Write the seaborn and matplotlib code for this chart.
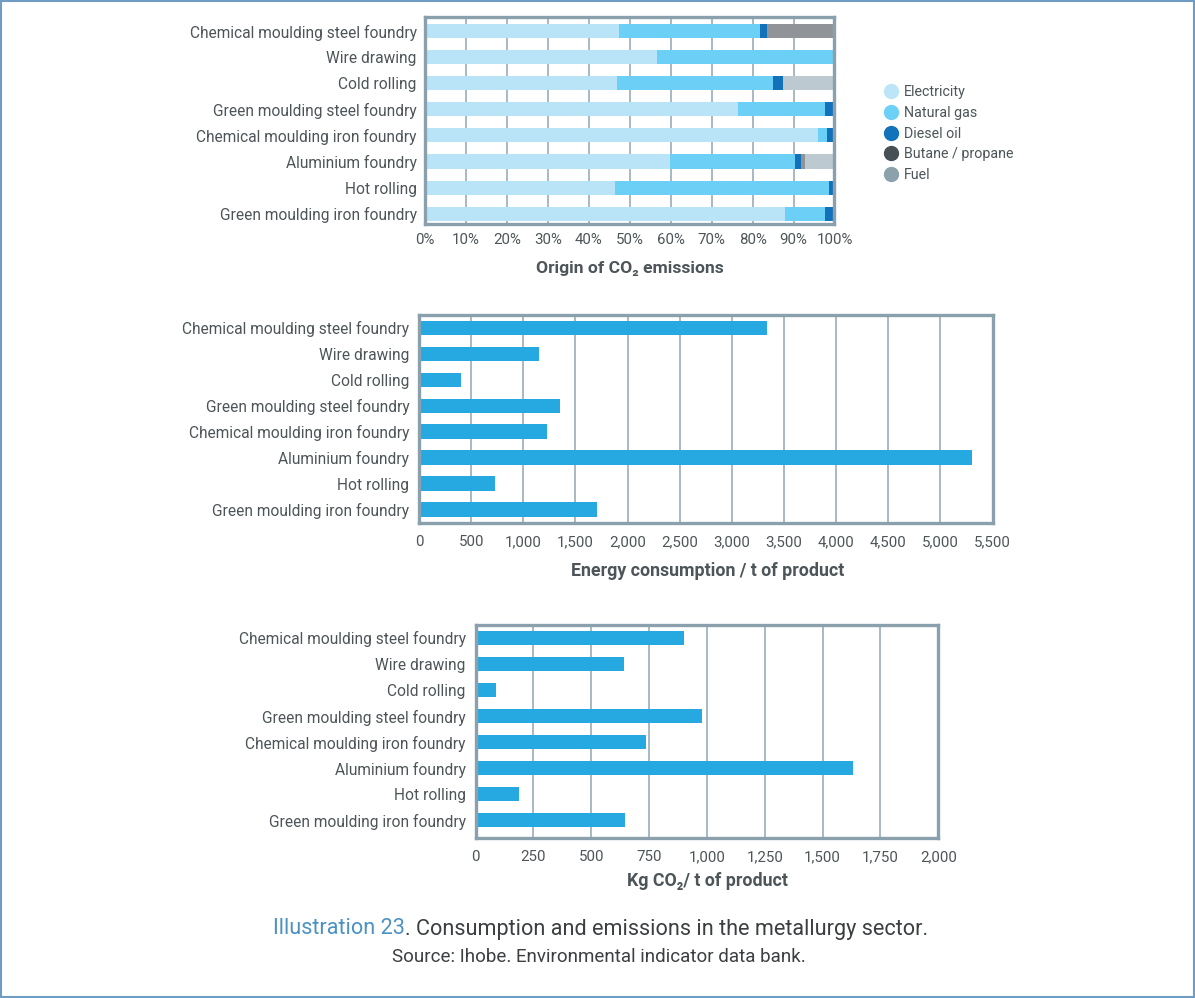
import numpy as np
import pandas as pd
import matplotlib
matplotlib.use("Agg")
import matplotlib.pyplot as plt
import seaborn as sns
from matplotlib.lines import Line2D
from matplotlib.patches import Rectangle
from matplotlib.ticker import FuncFormatter

# ---------------- data ----------------
categories = [
    "Chemical moulding steel foundry",
    "Wire drawing",
    "Cold rolling",
    "Green moulding steel foundry",
    "Chemical moulding iron foundry",
    "Aluminium foundry",
    "Hot rolling",
    "Green moulding iron foundry",
]

sources = ["Electricity", "Natural gas", "Diesel oil", "Butane / propane", "Fuel"]
electricity = [47.3, 56.7, 47.0, 76.4, 96.0, 59.9, 46.3, 87.8]
natural_gas = [34.4, 43.3, 38.1, 21.3, 2.2, 30.5, 52.4, 9.9]
diesel_oil = [1.9, 0.0, 2.4, 2.3, 1.8, 1.5, 1.3, 2.3]
butane_propane = [16.4, 0.0, 0.0, 0.0, 0.0, 0.9, 0.0, 0.0]
fuel = [0.0, 0.0, 12.5, 0.0, 0.0, 7.2, 0.0, 0.0]

energy_consumption = [3340, 1150, 400, 1350, 1230, 5300, 730, 1710]
kg_co2 = [900, 640, 90, 980, 735, 1630, 190, 645]

pct_ticks = list(range(0, 101, 10))
pct_labels = [f"{v}%" for v in pct_ticks]
energy_ticks = list(range(0, 5501, 500))
co2_ticks = list(range(0, 2001, 250))

title_1 = "Origin of CO\u2082 emissions"
title_2 = "Energy consumption / t of product"
title_3 = "Kg CO\u2082/ t of product"
caption_a = "Illustration 23"
caption_b = ". Consumption and emissions in the metallurgy sector."
source_text = "Source: Ihobe. Environmental indicator data bank."

# ---------------- style ----------------
bar_colors = ["#b9e4f8", "#6bcff6", "#1172ba", "#909498", "#bdc9d1"]
legend_colors = ["#bde5f8", "#6dd0f6", "#1273bb", "#465055", "#8ba1ac"]
main_blue = "#25a9e0"
frame_col = "#8aa1ad"
grid_col = "#9fb3bd"
text_col = "#4d5559"

sns.set_style("white")
plt.rcParams["font.family"] = ["Roboto", "DejaVu Sans"]

W, H = 1195, 998
fig = plt.figure(figsize=(W / 100, H / 100), dpi=100)
fig.patch.set_facecolor("white")


def ax_at(x0, y0, x1, y1):
    return fig.add_axes([x0 / W, 1 - y1 / H, (x1 - x0) / W, (y1 - y0) / H])


def style_axes(ax, ypad, xpad):
    for s in ax.spines.values():
        s.set_visible(True)
        s.set_color(frame_col)
        s.set_linewidth(2.4)
    ax.set_axisbelow(True)
    ax.xaxis.grid(True, color=grid_col, linewidth=1.3)
    ax.yaxis.grid(False)
    ax.tick_params(axis="both", length=0, colors=text_col)
    ax.tick_params(axis="y", pad=ypad, labelsize=11.2)
    ax.tick_params(axis="x", pad=xpad, labelsize=10.8)
    ax.set_xlabel("")
    ax.set_ylabel("")


# ---------------- chart 1 : stacked origin of CO2 ----------------
ax1 = ax_at(425, 17.3, 834.5, 223.5)
df1 = pd.DataFrame({
    "category": categories,
    "Electricity": electricity,
    "Natural gas": natural_gas,
    "Diesel oil": diesel_oil,
    "Butane / propane": butane_propane,
    "Fuel": fuel,
})
cum = df1[sources].cumsum(axis=1)
cum["category"] = categories
for src, col in reversed(list(zip(sources, bar_colors))):
    sns.barplot(data=cum, x=src, y="category", order=categories, orient="h",
                color=col, saturation=1, width=0.54, errorbar=None,
                linewidth=0, ax=ax1)
ax1.set_xlim(0, 100)
ax1.set_ylim(7.375, -0.525)
ax1.set_xticks(pct_ticks)
ax1.set_xticklabels(pct_labels)
style_axes(ax1, 6, 7)

handles = [Line2D([0], [0], marker="o", linestyle="", markersize=10,
                  markerfacecolor=c, markeredgecolor=c) for c in legend_colors]
fig.legend(handles, sources, loc="upper left",
           bbox_to_anchor=(878 / W, 1 - 79.5 / H), frameon=False,
           fontsize=10.25, labelcolor=text_col, handlelength=1.0,
           handletextpad=0.4, labelspacing=0.47, borderaxespad=0)

fig.text(629.5 / W, 1 - 268 / H, title_1, ha="center", va="center",
         fontsize=12.6, fontweight="bold", color=text_col)

# ---------------- chart 2 : energy consumption ----------------
ax2 = ax_at(419, 315, 992.5, 522.5)
df2 = pd.DataFrame({"category": categories, "value": energy_consumption})
sns.barplot(data=df2, x="value", y="category", order=categories, orient="h",
            color=main_blue, saturation=1, width=0.56, errorbar=None,
            linewidth=0, ax=ax2)
ax2.set_xlim(0, 5500)
ax2.set_ylim(7.5, -0.5)
ax2.set_xticks(energy_ticks)
ax2.xaxis.set_major_formatter(FuncFormatter(lambda v, p: f"{int(v):,}"))
style_axes(ax2, 7, 9)

fig.text(708 / W, 1 - 571 / H, title_2, ha="center", va="center",
         fontsize=12.8, fontweight="bold", color=text_col)

# ---------------- chart 3 : kg CO2 ----------------
ax3 = ax_at(475.5, 624.7, 938.3, 837.5)
df3 = pd.DataFrame({"category": categories, "value": kg_co2})
sns.barplot(data=df3, x="value", y="category", order=categories, orient="h",
            color=main_blue, saturation=1, width=0.56, errorbar=None,
            linewidth=0, ax=ax3)
ax3.set_xlim(0, 2000)
ax3.set_ylim(7.67, -0.51)
ax3.set_xticks(co2_ticks)
ax3.xaxis.set_major_formatter(FuncFormatter(lambda v, p: f"{int(v):,}"))
style_axes(ax3, 7, 9)

fig.text(707 / W, 1 - 881 / H, title_3, ha="center", va="center",
         fontsize=12.8, fontweight="bold", color=text_col)

# ---------------- caption ----------------
fig.canvas.draw()
r = fig.canvas.get_renderer()
t1 = fig.text(273 / W, 1 - 929 / H, caption_a, ha="left", va="center",
              fontsize=15.6, color="#4a92c4")
bb = t1.get_window_extent(r)
fig.text(bb.x1 / W, 1 - 929 / H, caption_b, ha="left", va="center",
         fontsize=15.6, color="#3b3f42")
fig.text(599 / W, 1 - 957 / H, source_text, ha="center", va="center",
         fontsize=13.5, color="#3b3f42")

# figure border
fig.patches.append(Rectangle((0.0008, 0.001), 0.9984, 0.998, transform=fig.transFigure,
                             fill=False, edgecolor="#6f9cc2", linewidth=1.5))

fig.savefig("out.png", dpi=100, facecolor="white")
